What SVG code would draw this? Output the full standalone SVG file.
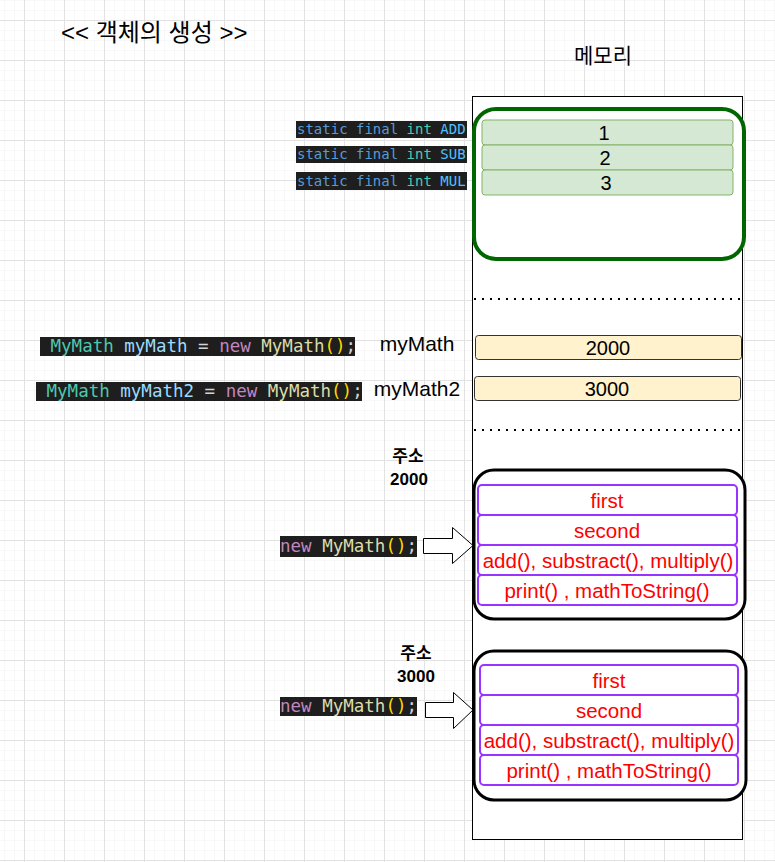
<svg xmlns="http://www.w3.org/2000/svg" width="775" height="862" viewBox="0 0 775 862">
<defs>
<pattern id="minor" x="4" y="0" width="10" height="10" patternUnits="userSpaceOnUse">
<path d="M0 0H10M0 0V10" fill="none" stroke="#f2f2f2" stroke-width="1"/>
</pattern>
<pattern id="major" x="24" y="20" width="40" height="40" patternUnits="userSpaceOnUse">
<path d="M0 0.5H40M0.5 0V40" fill="none" stroke="#e2e2e2" stroke-width="1"/>
</pattern>
</defs>
<style>
.t{font-family:"Liberation Sans","Noto Sans CJK KR",sans-serif;fill:#000}
.b{font-weight:bold;font-size:17px;text-anchor:middle}
.code{font-family:"DejaVu Sans Mono","Liberation Mono",monospace;font-size:17.5px}
.sc{font-family:"DejaVu Sans Mono","Liberation Mono",monospace;font-size:14px}
.bg{fill:#1e1e1e}
.cell{fill:#d5e8d4;stroke:#82b366;stroke-width:1}
.ycell{fill:#fff2cc;stroke:#333;stroke-width:1}
.pcell{fill:#fff;stroke:#9933ff;stroke-width:2}
.red{font-family:"Liberation Sans",sans-serif;font-size:20.5px;fill:#ff0000;text-anchor:middle}
.num{font-family:"Liberation Sans",sans-serif;font-size:20px;fill:#000;text-anchor:middle}
.ty{fill:#4ec9b0}.va{fill:#9cdcfe}.op{fill:#d4d4d4}.kw{fill:#c586c0}.fn{fill:#dcdcaa}.br{fill:#ffd700}.bl{fill:#569cd6}.cn{fill:#4fc1ff}
.dot{stroke:#000;stroke-width:2;stroke-dasharray:2 6;fill:none}
.arrow{fill:#fff;stroke:#000;stroke-width:1}
</style>
<rect width="775" height="862" fill="#fff"/>
<rect width="775" height="862" fill="url(#minor)"/>
<rect width="775" height="862" fill="url(#major)"/>

<g id="title"><text class="t" x="61" y="41" font-size="24">&lt;&lt; 객체의 생성 &gt;&gt;</text></g>
<g id="memory-label"><text class="t" x="603" y="63" font-size="21" text-anchor="middle">메모리</text></g>

<g id="memory"><rect x="472.5" y="96.5" width="270" height="743" fill="#fff" stroke="#000" stroke-width="1"/></g>

<g id="static-area">
<rect x="474" y="109" width="270" height="150" rx="22" fill="none" stroke="#006600" stroke-width="4"/>
<rect class="cell" x="482" y="120" width="251" height="25" rx="3"/>
<rect class="cell" x="482" y="145" width="251" height="25" rx="3"/>
<rect class="cell" x="482" y="170" width="251" height="25" rx="3"/>
<text class="num" x="604" y="140">1</text>
<text class="num" x="605" y="165">2</text>
<text class="num" x="606" y="190">3</text>
</g>

<g id="static-labels">
<rect class="bg" x="296" y="121" width="171" height="17"/>
<rect class="bg" x="296" y="146" width="171" height="17"/>
<rect class="bg" x="296" y="172" width="171" height="18"/>
<text class="sc" x="297" y="134"><tspan class="bl">static final </tspan><tspan class="ty">int </tspan><tspan class="cn">ADD</tspan></text>
<text class="sc" x="297" y="159"><tspan class="bl">static final </tspan><tspan class="ty">int </tspan><tspan class="cn">SUB</tspan></text>
<text class="sc" x="297" y="186"><tspan class="bl">static final </tspan><tspan class="ty">int </tspan><tspan class="cn">MUL</tspan></text>
</g>

<g id="separators">
<line class="dot" x1="474" y1="299" x2="742" y2="299"/>
<line class="dot" x1="474" y1="430" x2="742" y2="430"/>
</g>

<g id="refs">
<rect class="ycell" x="475.5" y="335.5" width="266" height="24" rx="3"/>
<rect class="ycell" x="474.5" y="376.5" width="266" height="24" rx="3"/>
<text class="num" x="608" y="355">2000</text>
<text class="num" x="607" y="396">3000</text>
<text class="t" x="417" y="351" font-size="21" text-anchor="middle">myMath</text>
<text class="t" x="417" y="396" font-size="21" text-anchor="middle">myMath2</text>
</g>

<g id="code1">
<rect class="bg" x="40" y="337" width="315" height="19"/>
<text class="code" x="40" y="352" xml:space="preserve"><tspan class="ty"> MyMath</tspan><tspan class="va"> myMath</tspan><tspan class="op"> = </tspan><tspan class="kw">new</tspan><tspan class="fn"> MyMath</tspan><tspan class="br">()</tspan><tspan class="op">;</tspan></text>
</g>
<g id="code2">
<rect class="bg" x="36" y="382" width="326" height="19"/>
<text class="code" x="36" y="397" xml:space="preserve"><tspan class="ty"> MyMath</tspan><tspan class="va"> myMath2</tspan><tspan class="op"> = </tspan><tspan class="kw">new</tspan><tspan class="fn"> MyMath</tspan><tspan class="br">()</tspan><tspan class="op">;</tspan></text>
</g>

<g id="addr1">
<text class="t b" x="408" y="462">주소</text>
<text class="t b" x="409" y="485">2000</text>
</g>
<g id="addr2">
<text class="t b" x="416" y="659">주소</text>
<text class="t b" x="416" y="682">3000</text>
</g>

<g id="new1">
<rect class="bg" x="280" y="536" width="137" height="21"/>
<text class="code" x="280" y="552" xml:space="preserve"><tspan class="kw">new</tspan><tspan class="fn"> MyMath</tspan><tspan class="br">()</tspan><tspan class="op">;</tspan></text>
</g>
<g id="new2">
<rect class="bg" x="280" y="697" width="137" height="19"/>
<text class="code" x="280" y="712" xml:space="preserve"><tspan class="kw">new</tspan><tspan class="fn"> MyMath</tspan><tspan class="br">()</tspan><tspan class="op">;</tspan></text>
</g>

<g id="connectors">
<path class="arrow" d="M423.5 538.5H452.5V527.5L473 545.5L452.5 563.5V553.5H423.5Z"/>
<path class="arrow" d="M425.5 702.5H453.5V692.5L473 710L453.5 728.5V717.5H425.5Z"/>
</g>

<g id="object1">
<rect x="474" y="470" width="271" height="149" rx="20" fill="#fff" stroke="#000" stroke-width="3"/>
<rect class="pcell" x="478" y="485" width="259" height="30" rx="4"/>
<rect class="pcell" x="478" y="515" width="259" height="30" rx="4"/>
<rect class="pcell" x="478" y="545" width="259" height="30" rx="4"/>
<rect class="pcell" x="478" y="575" width="259" height="30" rx="4"/>
<text class="red" x="607" y="508">first</text>
<text class="red" x="607" y="538">second</text>
<text class="red" x="608" y="568">add(), substract(), multiply()</text>
<text class="red" x="607" y="598">print() , mathToString()</text>
</g>

<g id="object2">
<rect x="474" y="651" width="272" height="149" rx="20" fill="#fff" stroke="#000" stroke-width="3"/>
<rect class="pcell" x="480" y="665" width="258" height="30" rx="4"/>
<rect class="pcell" x="480" y="695" width="258" height="30" rx="4"/>
<rect class="pcell" x="480" y="725" width="258" height="30" rx="4"/>
<rect class="pcell" x="480" y="755" width="258" height="30" rx="4"/>
<text class="red" x="609" y="688">first</text>
<text class="red" x="609" y="718">second</text>
<text class="red" x="609" y="748">add(), substract(), multiply()</text>
<text class="red" x="609" y="778">print() , mathToString()</text>
</g>
</svg>
